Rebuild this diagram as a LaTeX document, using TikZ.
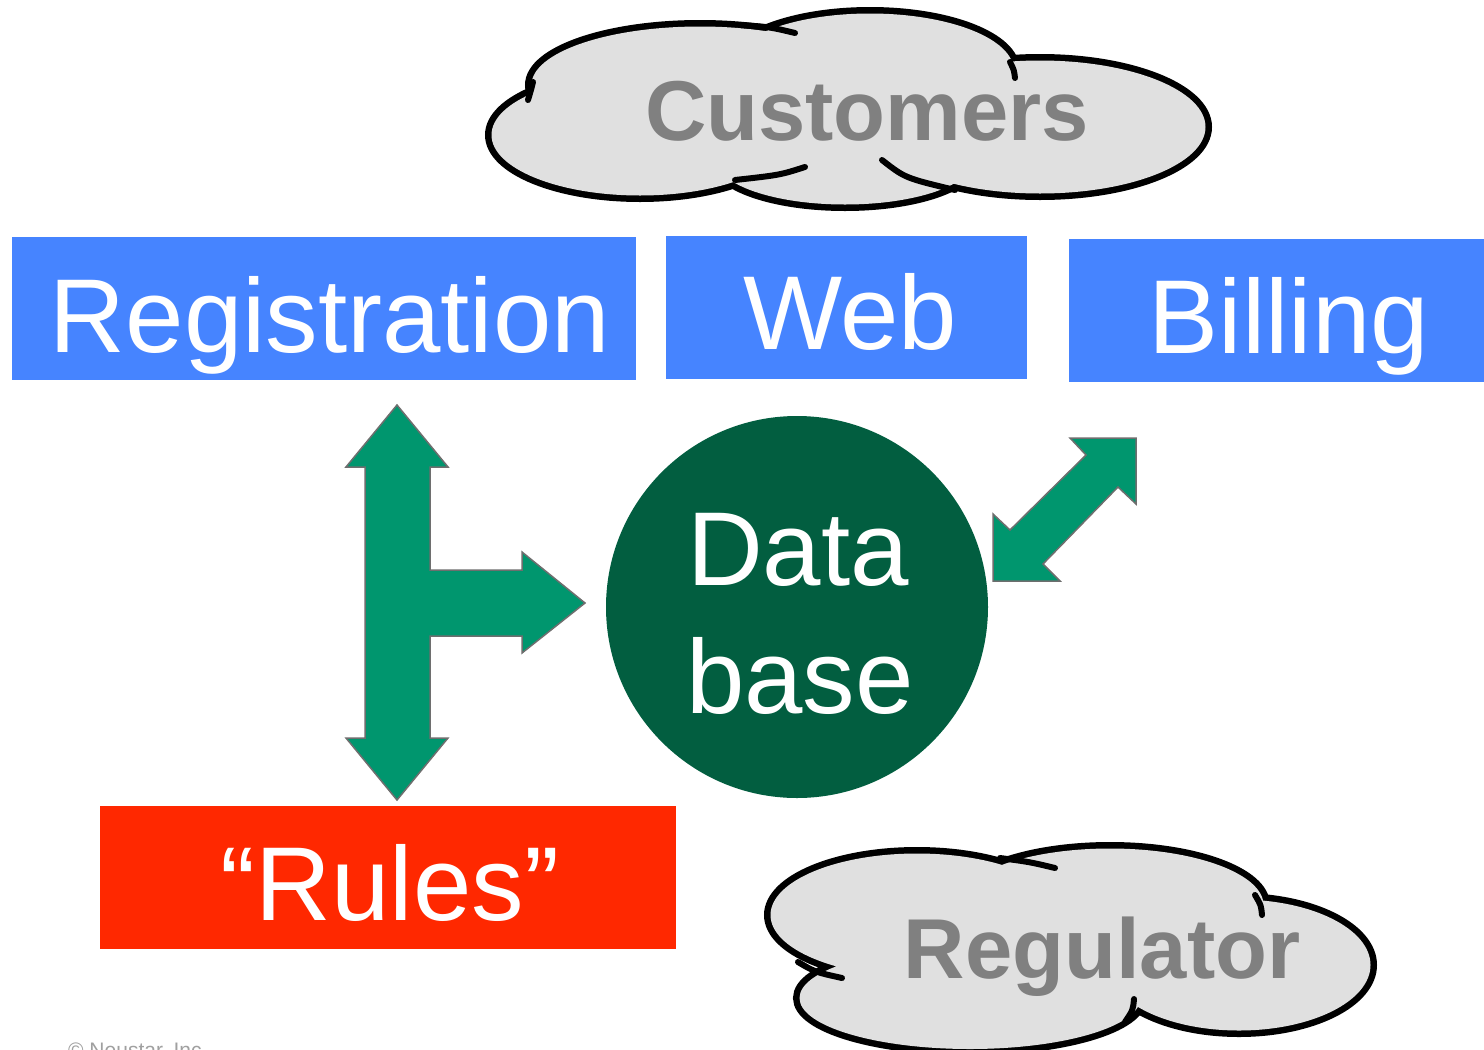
\documentclass[tikz,border=0pt]{standalone}
\usepackage{fontspec}
\setmainfont{Liberation Sans}
\definecolor{boxblue}{RGB}{70,132,255}
\definecolor{rulesred}{RGB}{255,40,0}
\definecolor{dbgreen}{RGB}{2,94,64}
\definecolor{arrowgreen}{RGB}{0,150,110}
\definecolor{arrowgray}{RGB}{110,110,110}
\definecolor{cloudfill}{RGB}{224,224,224}
\definecolor{cloudtextgray}{RGB}{128,128,128}
\definecolor{copygray}{RGB}{160,160,160}
\begin{document}
\begin{tikzpicture}[x=1pt,y=-1pt]
\tikzset{
  colorbox/.style={draw=none, inner sep=0pt, outer sep=0pt},
  boxtext/.style={anchor=base, text=white, inner sep=0pt, font=\fontsize{105}{126}\selectfont},
  cloudtext/.style={anchor=base, text=cloudtextgray, inner sep=0pt, font=\bfseries\fontsize{85}{100}\selectfont},
  blockarrow/.style={fill=arrowgreen, draw=arrowgray, line width=1.5pt, line join=miter},
  lobeline/.style={draw=black, line width=13pt},
  lobefill/.style={fill=cloudfill},
  tail/.style={draw=black, line width=6pt, line cap=round}
}
\useasboundingbox[fill=white] (0,0) rectangle (1484,1050);

% ---------- Customers cloud ----------
\path[lobeline] (640,135) ellipse [x radius=148.5, y radius=60.5]
                (700,85) ellipse [x radius=168.5, y radius=58.5]
                (870,70) ellipse [x radius=143.5, y radius=56.5]
                (1040,127) ellipse [x radius=165.5, y radius=66.5]
                (845,160) ellipse [x radius=128.5, y radius=44.5];
\path[lobefill] (640,135) ellipse [x radius=148.5, y radius=60.5]
                (700,85) ellipse [x radius=168.5, y radius=58.5]
                (870,70) ellipse [x radius=143.5, y radius=56.5]
                (1040,127) ellipse [x radius=165.5, y radius=66.5]
                (845,160) ellipse [x radius=128.5, y radius=44.5]
                (850,115) ellipse [x radius=230, y radius=45];
\draw[tail] (533,82) .. controls (531,90) .. (528,100);
\draw[tail] (740,25) .. controls (770,27) .. (795,33);
\draw[tail] (1010,62) .. controls (1014,70) .. (1015,78);
\draw[tail] (882,160) .. controls (905,178) .. (955,190);
\draw[tail] (735,180) .. controls (780,175) .. (805,167);
\node[cloudtext] (customers) at (867,140) {Customers};

% ---------- Regulator cloud ----------
\path[lobeline] (917,915) ellipse [x radius=146.5, y radius=61.5]
                (1110,905) ellipse [x radius=153.5, y radius=56.5]
                (1239,965) ellipse [x radius=131.5, y radius=65.5]
                (970,998) ellipse [x radius=170.5, y radius=51];
\path[lobefill] (917,915) ellipse [x radius=146.5, y radius=61.5]
                (1110,905) ellipse [x radius=153.5, y radius=56.5]
                (1239,965) ellipse [x radius=131.5, y radius=65.5]
                (970,998) ellipse [x radius=170.5, y radius=51]
                (1080,955) ellipse [x radius=60, y radius=25];
\draw[tail] (1000,858) .. controls (1030,862) .. (1055,868);
\draw[tail] (1255,895) .. controls (1261,905) .. (1262,915);
\draw[tail] (798,962) .. controls (815,972) .. (842,978);
\draw[tail] (1134,999) .. controls (1133,1010) .. (1125,1022);
\node[cloudtext] (regulator) at (1102,978) {Regulator};

% ---------- Boxes ----------
\node[colorbox, fill=boxblue, minimum width=624pt, minimum height=143pt] (reg) at (324,308.5) {};
\node[boxtext] (regtext) at (330,352) {Registration};
\node[colorbox, fill=boxblue, minimum width=361pt, minimum height=143pt] (web) at (846.5,307.5) {};
\node[boxtext] (webtext) at (850,349) {Web};
\node[colorbox, fill=boxblue, minimum width=415pt, minimum height=143pt] (bill) at (1276.5,310.5) {};
\node[boxtext] (billtext) at (1289,353) {Billing};
\node[colorbox, fill=rulesred, minimum width=576pt, minimum height=143pt] (rules) at (388,877.5) {};
\node[boxtext] (rulestext) at (390,920) {“Rules”};

% ---------- Database ----------
\node[circle, fill=dbgreen, draw=none, minimum size=382pt, inner sep=0pt] (db) at (797,607) {};
\node[boxtext] (dbtext1) at (798,585) {Data};
\node[boxtext] (dbtext2) at (800,713) {base};

% ---------- Block arrows ----------
\draw[blockarrow] (397,405) -- (448,467) -- (430,467) -- (430,570) -- (522,570) -- (522,552)
  -- (585,603) -- (522,653) -- (522,636) -- (430,636) -- (430,738) -- (448,738)
  -- (397,800) -- (346,738) -- (365,738) -- (365,467) -- (346,467) -- cycle;
\draw[blockarrow] (1070,438) -- (1136,438) -- (1136,504) -- (1118,487) -- (1043,564)
  -- (1060,581) -- (993,581) -- (993,514) -- (1010,530) -- (1086,455) -- cycle;

% ---------- Copyright (cut at the lower edge, as in the reference) ----------
\node[anchor=base west, text=copygray, inner sep=0pt, font=\fontsize{21}{25}\selectfont] (copy) at (68,1057) {© Neustar, Inc};
\end{tikzpicture}
\end{document}
